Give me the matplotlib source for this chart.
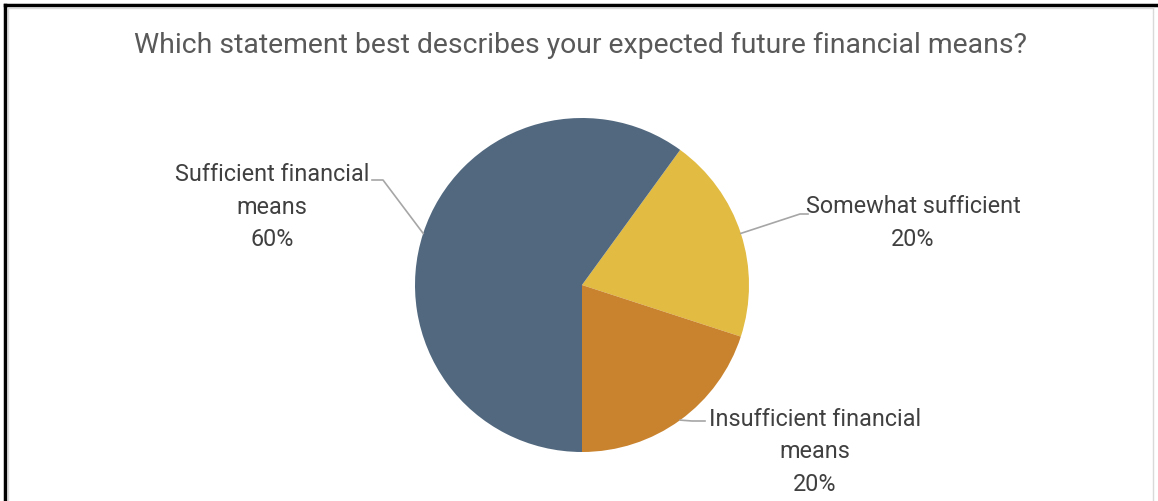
import numpy as np
import matplotlib
matplotlib.use("Agg")
import matplotlib.pyplot as plt

W, H = 1158, 501

title = "Which statement best describes your expected future financial means?"
categories = ["Somewhat sufficient", "Insufficient financial\nmeans", "Sufficient financial\nmeans"]
shares = [20, 20, 60]
colors = ["#E2BB43", "#C9832E", "#51687F"]

# label centre (pixel coords, y from top) and elbow of leader line
label_pos = [(913, 223), (815, 452), (272, 207)]
elbows = [[(800, 214), (808, 214)], [(692, 421), (705, 421)], [(383, 180), (372, 180)]]

plt.rcParams['font.family'] = ['Roboto', 'DejaVu Sans']

fig = plt.figure(figsize=(W / 100, H / 100), dpi=100)
ax = fig.add_axes([0, 0, 1, 1])

cx, cy, r = 582, 285, 167


def py(y):
    return H - y


wedges, _ = ax.pie(shares, colors=colors, startangle=54, counterclock=False,
                   center=(cx, py(cy)), radius=r, frame=False)

for w, cat, s, (lx, ly), el in zip(wedges, categories, shares, label_pos, elbows):
    mid = np.deg2rad((w.theta1 + w.theta2) / 2)
    ex, ey = cx + r * np.cos(mid), py(cy) + r * np.sin(mid)
    xs = [ex] + [p[0] for p in el]
    ys = [ey] + [py(p[1]) for p in el]
    ax.plot(xs, ys, color="#A6A6A6", lw=1.2, zorder=1)
    ax.text(lx, py(ly), f"{cat}\n{s}%", ha="center", va="center",
            fontsize=16.8, color="#404040", linespacing=1.55)

ax.text(581, py(45), title, ha="center", va="center", fontsize=20.4, color="#595959")

# frame
ax.plot([5, 5], [py(5), 0], color="black", lw=2.5, clip_on=False)
ax.plot([5, W], [py(5), py(5)], color="black", lw=2.5, clip_on=False)
ax.plot([8, 8], [py(8), 0], color="#D9D9D9", lw=1, clip_on=False)
ax.plot([1153, 1153], [py(8), 0], color="#D9D9D9", lw=1, clip_on=False)
ax.plot([8, 1153], [py(8), py(8)], color="#D9D9D9", lw=1, clip_on=False)

ax.set_xlim(0, W)
ax.set_ylim(0, H)
ax.set_aspect("equal")
ax.axis("off")

fig.savefig("out.png", dpi=100)
